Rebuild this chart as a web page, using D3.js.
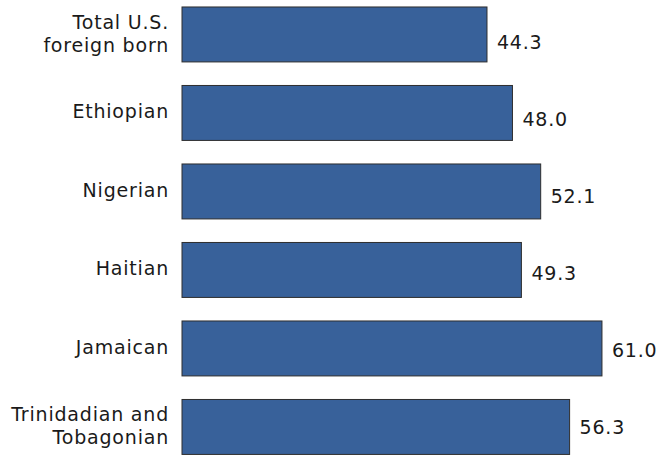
<!DOCTYPE html>
<html>
<head>
<meta charset="utf-8">
<script src="https://cdn.jsdelivr.net/npm/d3@7"></script>
<style>
  html, body { margin: 0; padding: 0; background: #fff; }
  svg { display: block; }
  text { font-family: "DejaVu Sans", Verdana, sans-serif; fill: #1a1a1a; letter-spacing: 0.8px; }
</style>
</head>
<body>
<svg id="chart" width="665" height="455"></svg>
<script>
// Median age by origin group
const categories = [
  ["Total U.S.", "foreign born"],
  ["Ethiopian"],
  ["Nigerian"],
  ["Haitian"],
  ["Jamaican"],
  ["Trinidadian and", "Tobagonian"]
];
const values = [44.3, 48.0, 52.1, 49.3, 61.0, 56.3];
const valueLabels = ["44.3", "48.0", "52.1", "49.3", "61.0", "56.3"];

const svg = d3.select("#chart");
const keys = categories.map(c => c.join(" "));

const x = d3.scaleLinear().domain([0, 65]).range([182, 629.5]);
const y = d3.scaleBand().domain(keys).range([-4.8, 466.2])
  .paddingInner(0.3).paddingOuter(0.15);
// baselines for the value labels, spaced slightly tighter than the bars
const yLabel = d3.scalePoint().domain(keys).range([49, 434]);

const rows = keys.map((k, i) => ({ key: k, lines: categories[i], value: values[i], label: valueLabels[i] }));

svg.append("g").selectAll("rect").data(rows).join("rect")
  .attr("x", x(0))
  .attr("y", d => y(d.key))
  .attr("width", d => x(d.value) - x(0))
  .attr("height", y.bandwidth())
  .attr("fill", "#38619a")
  .attr("stroke", "#2e2e2e")
  .attr("stroke-width", 1);

// value labels beside each bar end
svg.append("g").selectAll("text").data(rows).join("text")
  .attr("x", d => x(d.value) + 10)
  .attr("y", d => yLabel(d.key))
  .attr("font-size", 19)
  .text(d => d.label);

// category labels, right-aligned to the left of the bars
const cat = svg.append("g").selectAll("text").data(rows).join("text")
  .attr("text-anchor", "end")
  .attr("font-size", 19)
  .attr("y", d => y(d.key) + y.bandwidth() / 2 + 5.5 - (d.lines.length - 1) * 11.3);
cat.selectAll("tspan").data(d => d.lines).join("tspan")
  .attr("x", 169)
  .attr("dy", (d, i) => i === 0 ? 0 : 23.3)
  .text(d => d);
</script>
</body>
</html>
